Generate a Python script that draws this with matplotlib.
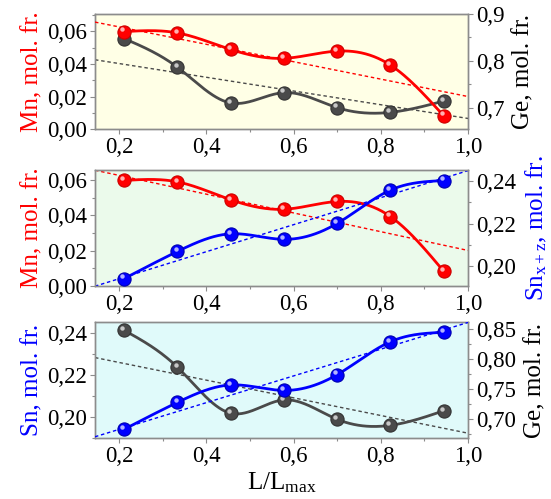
import numpy as np
import matplotlib
matplotlib.use("Agg")
import matplotlib.pyplot as plt
from matplotlib import transforms
from matplotlib.ticker import MultipleLocator, FuncFormatter

plt.rcParams['font.family'] = ['Liberation Serif', 'DejaVu Serif']
plt.rcParams['mathtext.fontset'] = 'custom'
plt.rcParams['mathtext.rm'] = 'Liberation Serif'
plt.rcParams['mathtext.it'] = 'Liberation Serif:italic'

# Relative position along the sample
x_pos = [0.212, 0.334, 0.456, 0.578, 0.700, 0.822, 0.944]

# Mole fractions
mn_frac = [0.0597, 0.0589, 0.0488, 0.0434, 0.0478, 0.0393, 0.0084]
ge_frac = [0.847, 0.786, 0.710, 0.732, 0.700, 0.690, 0.714]
sn_frac = [0.1941, 0.2069, 0.2152, 0.2126, 0.2201, 0.2358, 0.2403]

# Linear trends: (value at x=0.145, value at x=1.0)
trend_x = [0.145, 1.0]
mn_trend = [0.0655, 0.0201]
ge_trend = [0.802, 0.677]
sn_trend = [0.1905, 0.2450]

x_ticks = [0.2, 0.4, 0.6, 0.8, 1.0]

RED = '#ff0000'
BLUE = '#0000ff'
GRAY = '#4a4a4a'
SPINE = '#8c8c8c'
FS_TICK = 16.5
FS_LAB = 18


def natural_spline(x, y, n=300):
    x = np.asarray(x, float)
    y = np.asarray(y, float)
    k = len(x)
    h = np.diff(x)
    A = np.zeros((k, k))
    b = np.zeros(k)
    A[0, 0] = A[-1, -1] = 1.0
    for i in range(1, k - 1):
        A[i, i - 1] = h[i - 1]
        A[i, i] = 2 * (h[i - 1] + h[i])
        A[i, i + 1] = h[i]
        b[i] = 3 * ((y[i + 1] - y[i]) / h[i] - (y[i] - y[i - 1]) / h[i - 1])
    c = np.linalg.solve(A, b)
    xs = np.linspace(x[0], x[-1], n)
    idx = np.clip(np.searchsorted(x, xs) - 1, 0, k - 2)
    dx = xs - x[idx]
    bb = (y[idx + 1] - y[idx]) / h[idx] - h[idx] * (2 * c[idx] + c[idx + 1]) / 3
    dd = (c[idx + 1] - c[idx]) / (3 * h[idx])
    ys = y[idx] + bb * dx + c[idx] * dx ** 2 + dd * dx ** 3
    return xs, ys


def comma(v, _):
    s = f"{v:.2f}"
    return s.replace('.', ',')


def comma1(v, _):
    return f"{v:.1f}".replace('.', ',')


def series(ax, y, color, edge, trend):
    ax.plot(trend_x, trend, ls=(0, (2.5, 2)), color=color, lw=1.0, zorder=2)
    xs, ys = natural_spline(x_pos, y)
    ax.plot(xs, ys, color=color, lw=2.0, zorder=3)
    ax.plot(x_pos, y, 'o', ms=9.5, color=color, mec=edge, mew=0.8, zorder=4)
    hl = transforms.offset_copy(ax.transData, fig=ax.figure, x=-1.4, y=1.6, units='points')
    ax.plot(x_pos, y, 'o', ms=3.2, color='white', alpha=0.7, mew=0,
            transform=hl, zorder=5)


def style(ax, bg=None):
    if bg is not None:
        ax.set_facecolor(bg)
    for s in ax.spines.values():
        s.set_color(SPINE)
        s.set_linewidth(1.0)
    ax.tick_params(which='both', direction='out', color=SPINE, length=3.5,
                   width=0.8, labelsize=FS_TICK, pad=2)
    ax.tick_params(which='minor', length=2.5)


fig = plt.figure(figsize=(5.51, 4.99), dpi=100)
L, W, H = 0.1724, 0.677, 0.232
bottoms = [0.7405, 0.4269, 0.1222]
bgs = ['#ffffe6', '#ebfaeb', '#e0fafa']

axes = []
for b, bg in zip(bottoms, bgs):
    ax = fig.add_axes([L, b, W, H])
    style(ax, bg)
    ax.set_xlim(0.145, 1.0)
    ax.set_xticks(x_ticks)
    ax.xaxis.set_minor_locator(MultipleLocator(0.1))
    ax.xaxis.set_major_formatter(FuncFormatter(comma1))
    axes.append(ax)

# Panel 1: Mn (left) and Ge (right)
a1 = axes[0]
a1r = a1.twinx()
style(a1r)
a1r.set_zorder(a1.get_zorder() + 1)
a1r.patch.set_visible(False)
a1.set_ylim(0.0, 0.0706)
a1.yaxis.set_major_locator(MultipleLocator(0.02))
a1.yaxis.set_minor_locator(MultipleLocator(0.01))
a1.yaxis.set_major_formatter(FuncFormatter(comma))
a1r.set_ylim(0.6535, 0.9)
a1r.yaxis.set_major_locator(MultipleLocator(0.1))
a1r.yaxis.set_minor_locator(MultipleLocator(0.05))
a1r.yaxis.set_major_formatter(FuncFormatter(comma1))
series(a1r, ge_frac, GRAY, '#333333', ge_trend)
# Mn drawn on top of Ge
a1m = a1.twinx()
a1m.set_ylim(a1.get_ylim())
a1m.axis('off')
a1m.set_zorder(a1r.get_zorder() + 1)
series(a1m, mn_frac, RED, '#cc0000', mn_trend)
a1.set_ylabel('Mn, mol. fr.', color=RED, fontsize=FS_LAB, labelpad=3)
a1r.set_ylabel('Ge, mol. fr.', color='black', fontsize=FS_LAB, labelpad=6)

# Panel 2: Mn (left) and Sn_x+z (right)
a2 = axes[1]
a2r = a2.twinx()
style(a2r)
a2r.patch.set_visible(False)
a2.set_ylim(0.0, 0.0655)
a2.yaxis.set_major_locator(MultipleLocator(0.02))
a2.yaxis.set_minor_locator(MultipleLocator(0.01))
a2.yaxis.set_major_formatter(FuncFormatter(comma))
a2r.set_ylim(0.1906, 0.2452)
a2r.yaxis.set_major_locator(MultipleLocator(0.02))
a2r.yaxis.set_minor_locator(MultipleLocator(0.01))
a2r.yaxis.set_major_formatter(FuncFormatter(comma))
series(a2, mn_frac, RED, '#cc0000', mn_trend)
series(a2r, sn_frac, BLUE, '#0000b0', sn_trend)
a2.set_ylabel('Mn, mol. fr.', color=RED, fontsize=FS_LAB, labelpad=3)
a2r.set_ylabel(r'Sn$_{\mathregular{x+z}}$, mol. fr.', color=BLUE, fontsize=FS_LAB, labelpad=6)

# Panel 3: Sn (left) and Ge (right)
a3 = axes[2]
a3r = a3.twinx()
style(a3r)
a3r.patch.set_visible(False)
a3.set_ylim(0.1899, 0.2451)
a3.yaxis.set_major_locator(MultipleLocator(0.02))
a3.yaxis.set_minor_locator(MultipleLocator(0.01))
a3.yaxis.set_major_formatter(FuncFormatter(comma))
a3r.set_ylim(0.669, 0.8604)
a3r.yaxis.set_major_locator(MultipleLocator(0.05))
a3r.yaxis.set_minor_locator(MultipleLocator(0.025))
a3r.yaxis.set_major_formatter(FuncFormatter(comma))
series(a3r, ge_frac, GRAY, '#333333', ge_trend)
a3b = a3.twinx()
a3b.set_ylim(a3.get_ylim())
a3b.axis('off')
a3b.set_zorder(a3r.get_zorder() + 1)
series(a3b, sn_frac, BLUE, '#0000b0', sn_trend)
a3.set_ylabel('Sn, mol. fr.', color=BLUE, fontsize=FS_LAB, labelpad=3)
a3r.set_ylabel('Ge, mol. fr.', color='black', fontsize=FS_LAB, labelpad=6)
a3.set_xlabel(r'L/L$_{\mathregular{max}}$', fontsize=FS_LAB, labelpad=3)

fig.savefig('out.png', dpi=100)
